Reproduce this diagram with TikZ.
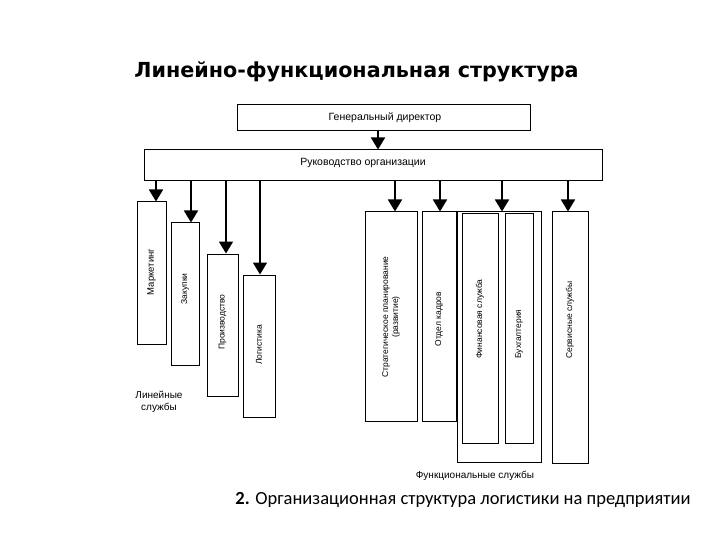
\documentclass[tikz,border=0pt]{standalone}
\usepackage{fontspec}
\setmainfont{Liberation Sans}
\newfontfamily\capfont{Carlito}
\newfontfamily\titfont{DejaVu Sans}
\usetikzlibrary{arrows.meta}
\begin{document}
\begin{tikzpicture}[x=1pt,y=-1pt,
  box/.style={draw, line width=1pt, inner sep=0pt},
  arr/.style={line width=1.8pt, -{Triangle[length=12pt,width=14pt]}},
  lbl/.style={font=\fontsize{8.5}{10}\selectfont, align=center, inner sep=0pt},
  hl/.style={lbl, font=\fontsize{10}{11.5}\selectfont},
  vl/.style={lbl, rotate=90}]
\useasboundingbox[fill=white] (0,0) rectangle (720,540);

% title and caption
\node[inner sep=0pt] (title) at (356.5,72) {\titfont\bfseries\fontsize{20.7}{23}\selectfont Линейно-функциональная структура};
\node[inner sep=0pt] (cap) at (463,500) {\capfont\fontsize{18.5}{20}\selectfont\textbf{2.} Организационная структура логистики на предприятии};

% top boxes
\node[box, minimum width=293, minimum height=26] (gd) at (383.5,118) {};
\node[box, minimum width=458, minimum height=31] (ruk) at (373,165.5) {};
\node[hl, font=\fontsize{10.5}{12}\selectfont] (gdt) at (385,118) {Генеральный директор};
\node[hl, font=\fontsize{10.5}{12}\selectfont] (rukt) at (363,163) {Руководство организации};

% line services
\node[box, minimum width=29, minimum height=142] (mk) at (151.5,273) {};
\node[box, minimum width=28, minimum height=142] (zk) at (185,294) {};
\node[box, minimum width=31, minimum height=142] (pr) at (222.5,325) {};
\node[box, minimum width=32, minimum height=142] (lg) at (259,346) {};
\node[vl, font=\fontsize{9.5}{11}\selectfont] (mkt) at (151.5,272) {Маркетинг};
\node[vl] (zkt) at (185,289) {Закупки};
\node[vl] (prt) at (222.5,322) {Производство};
\node[vl] (lgt) at (259,345) {Логистика};
\node[hl] (lin) at (159,402) {Линейные\\службы};

% functional services
\node[box, minimum width=52, minimum height=209] (st) at (391,316.5) {};
\node[box, minimum width=34, minimum height=209] (kd) at (439,316.5) {};
\node[box, minimum width=84, minimum height=250] (grp) at (499,337) {};
\node[box, minimum width=36, minimum height=229] (fin) at (480,328.5) {};
\node[box, minimum width=28, minimum height=229] (bu) at (519,328.5) {};
\node[box, minimum width=36, minimum height=251] (sv) at (570,337.5) {};
\node[vl] (stt) at (391,317) {Стратегическое планирование\\(развитие)};
\node[vl] (kdt) at (439,319) {Отдел кадров};
\node[vl] (fint) at (480,319) {Финансовая служба};
\node[vl] (but) at (519,334) {Бухгалтерия};
\node[vl] (svt) at (570,320) {Сервисные службы};
\node[hl] (fun) at (475,476) {Функциональные службы};

% arrows
\draw[arr] ([xshift=-5.5]gd.south) -- ([xshift=-5.5]gd.south |- ruk.north);
\draw[arr] ([xshift=4.5]mk.north |- ruk.south) -- ([xshift=4.5]mk.north);
\draw[arr] ([xshift=6]zk.north |- ruk.south) -- ([xshift=6]zk.north);
\draw[arr] ([xshift=3.5]pr.north |- ruk.south) -- ([xshift=3.5]pr.north);
\draw[arr] ([xshift=1]lg.north |- ruk.south) -- ([xshift=1]lg.north);
\draw[arr] ([xshift=4]st.north |- ruk.south) -- ([xshift=4]st.north);
\draw[arr] ([xshift=1]kd.north |- ruk.south) -- ([xshift=1]kd.north);
\draw[arr] ([xshift=3]grp.north |- ruk.south) -- ([xshift=3]grp.north);
\draw[arr] ([xshift=-2]sv.north |- ruk.south) -- ([xshift=-2]sv.north);
\end{tikzpicture}
\end{document}
